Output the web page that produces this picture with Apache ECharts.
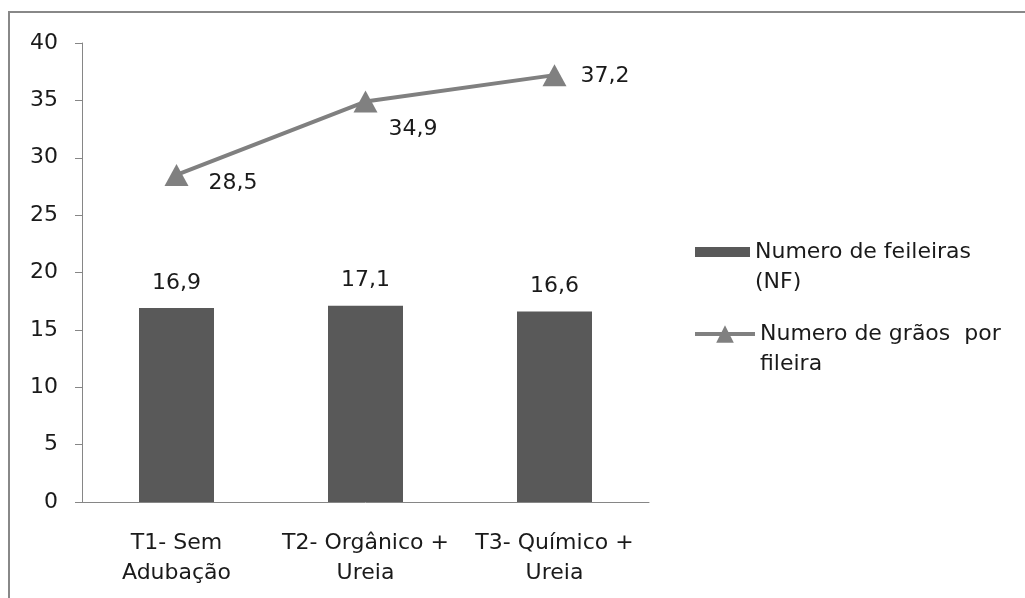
<!DOCTYPE html>
<html>
<head>
<meta charset="utf-8">
<script src="https://cdn.jsdelivr.net/npm/echarts@6/dist/echarts.min.js"></script>
<style>
  html, body { margin: 0; padding: 0; background: #fff; }
  #chart { width: 1025px; height: 598px; }
</style>
</head>
<body>
<div id="chart"></div>
<script>
// Tratamentos e valores medidos
const categories = ['T1- Sem\nAdubação', 'T2- Orgânico +\nUreia', 'T3- Químico +\nUreia'];
const feileiras = [16.9, 17.1, 16.6];
const graosPorFileira = [28.5, 34.9, 37.2];
const yTicks = { min: 0, max: 40, interval: 5 };

const nameBar = 'Numero de feileiras\n(NF)';
const nameLine = 'Numero de grãos  por\nfileira';

// deslocamento dos rótulos da linha
const lineLabelOffsets = [[0, 8], [-9, 28], [-6, 1]];

const FONT = 'DejaVu Sans';
const FS = 22;
const TXT = '#1a1a1a';
const AXIS = '#868686';

const fmt = v => String(v).replace('.', ',');
// primeira linha do texto da legenda alinhada ao ícone
const legendFmt = n => ' \n' + n;

const chart = echarts.init(document.getElementById('chart'), null, { renderer: 'canvas' });

chart.setOption({
  backgroundColor: '#fff',
  animation: false,
  textStyle: { fontFamily: FONT },
  grid: { left: 82, right: 376, top: 43, bottom: 96 },
  graphic: [{
    type: 'rect',
    shape: { x: 9, y: 12, width: 1030, height: 600 },
    style: { fill: 'none', stroke: '#888888', lineWidth: 2 },
    silent: true
  }],
  legend: [{
    data: [nameBar],
    orient: 'vertical',
    left: 695,
    top: 207,
    padding: 0,
    icon: 'rect',
    itemWidth: 55,
    itemHeight: 10,
    formatter: legendFmt,
    textStyle: { color: TXT, fontFamily: FONT, fontSize: FS, lineHeight: 30 }
  }, {
    data: [nameLine],
    orient: 'vertical',
    left: 693,
    top: 289,
    padding: 0,
    itemWidth: 60,
    itemHeight: 22,
    formatter: legendFmt,
    lineStyle: { color: '#808080', width: 4 },
    textStyle: { color: TXT, fontFamily: FONT, fontSize: FS, lineHeight: 30 }
  }],
  xAxis: {
    type: 'category',
    data: categories,
    axisLine: { lineStyle: { color: AXIS, width: 1 } },
    axisTick: { show: false },
    axisLabel: { color: TXT, fontFamily: FONT, fontSize: FS, lineHeight: 30, margin: 26, interval: 0 }
  },
  yAxis: {
    type: 'value',
    min: yTicks.min,
    max: yTicks.max,
    interval: yTicks.interval,
    axisLine: { show: true, lineStyle: { color: AXIS, width: 1 } },
    axisTick: { show: true, length: 7, lineStyle: { color: AXIS } },
    splitLine: { show: false },
    axisLabel: { color: TXT, fontFamily: FONT, fontSize: FS, margin: 24 }
  },
  series: [{
    name: nameBar,
    type: 'bar',
    data: feileiras,
    barWidth: 75,
    itemStyle: { color: '#595959' },
    label: {
      show: true, position: 'top', distance: 14,
      color: TXT, fontFamily: FONT, fontSize: FS,
      formatter: p => fmt(p.value)
    }
  }, {
    name: nameLine,
    type: 'line',
    data: graosPorFileira.map((v, i) => ({ value: v, label: { offset: lineLabelOffsets[i] } })),
    symbol: 'triangle',
    symbolSize: [24, 22],
    itemStyle: { color: '#808080' },
    lineStyle: { color: '#808080', width: 4 },
    z: 3,
    label: {
      show: true, position: 'right', distance: 20,
      color: TXT, fontFamily: FONT, fontSize: FS,
      formatter: p => fmt(p.value)
    }
  }]
});
</script>
</body>
</html>
